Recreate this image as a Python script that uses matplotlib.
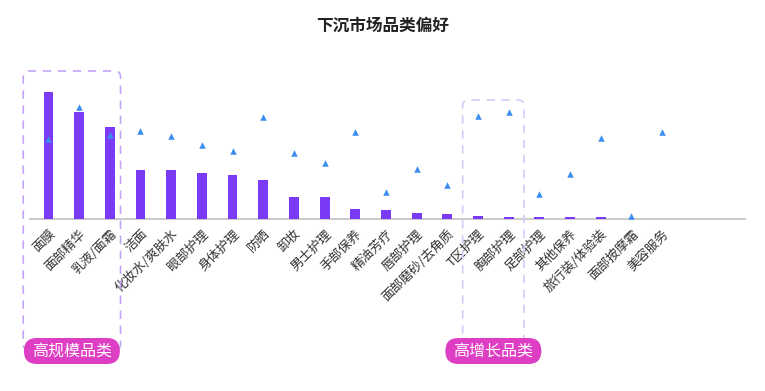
import matplotlib
matplotlib.use('Agg')
import matplotlib.pyplot as plt
from matplotlib.patches import FancyBboxPatch
from matplotlib.transforms import IdentityTransform

plt.rcParams['font.family'] = ['Noto Sans CJK SC', 'DejaVu Sans']

categories = ["面膜", "面部精华", "乳液/面霜", "洁面", "化妆水/爽肤水", "眼部护理", "身体护理",
              "防晒", "卸妆", "男士护理", "手部保养", "精油芳疗", "唇部护理", "面部磨砂/去角质",
              "T区护理", "胸部护理", "足部护理", "其他保养", "旅行装/体验装", "面部按摩霜", "美容服务"]
# market size index (bars) and growth index (triangles)
scale = [100, 84.2, 72.4, 38.7, 38.7, 36.0, 34.7, 30.8, 17.6, 17.6, 8.1,
         6.9, 4.7, 3.7, 2.6, 1.6, 1.3, 1.6, 1.6, 0.0, 0.0]
growth = [62.9, 88.6, 66.5, 69.2, 65.3, 58.6, 53.4, 80.3, 51.9, 44.2, 68.4,
          21.3, 39.2, 27.1, 81.1, 84.5, 19.7, 35.3, 63.7, 2.1, 68.7]
groups = [("高规模品类", 0, 2), ("高增长品类", 14, 15)]

W, H = 765, 391
fig = plt.figure(figsize=(W / 100, H / 100), dpi=100)
ax = fig.add_axes([30 / W, 1 - 219 / H, 715 / W, 159 / H])

x = list(range(len(categories)))
ax.bar(x, scale, width=0.32, color='#7B3AF5', zorder=3)
ax.scatter(x, growth, marker='^', s=22, color='#3A8EF0', zorder=4, linewidths=0)

ax.set_xlim(-0.6, 22.7)
ax.set_ylim(0, 125.5)
ax.set_yticks([])
ax.set_xticks(x)
ax.set_xticklabels(categories, rotation=45, ha='right', va='top',
                   rotation_mode='anchor', fontsize=9.3, color='#333333')
ax.tick_params(axis='x', length=0, pad=6)
for s in ['top', 'left', 'right']:
    ax.spines[s].set_visible(False)
ax.spines['bottom'].set_color('#CCCCCC')
ax.spines['bottom'].set_linewidth(1.5)

fig.text(0.5, 1 - 26 / H, "下沉市场品类偏好", ha='center', va='center',
         fontsize=12, fontweight='bold', color='#222222')

# group highlight boxes and labels (pixel space, origin bottom-left)
box_tops = [H - 71, H - 100]
box_cols = ['#C4A4F7', '#D9C9F7']
for (name, i0, i1), top, bc in zip(groups, box_tops, box_cols):
    x0 = ax.transData.transform((i0 - 0.5, 0))[0]
    x1 = ax.transData.transform((i1 + 0.5, 0))[0]
    if i0 == 0:
        x0 = ax.transData.transform((i0 - 0.82, 0))[0]
        x1 = ax.transData.transform((i1 + 0.35, 0))[0]
    bot = H - 350
    box = FancyBboxPatch((x0, bot), x1 - x0, top - bot,
                         boxstyle="round,pad=0,rounding_size=6",
                         fill=False, edgecolor=bc, linestyle=(0, (5, 4)),
                         linewidth=1.2, transform=IdentityTransform(), zorder=1)
    fig.patches.append(box)
    cx = (x0 + x1) / 2
    pw = 96
    pill = FancyBboxPatch((cx - pw / 2, H - 364), pw, 26,
                          boxstyle="round,pad=0,rounding_size=13",
                          facecolor='#DE3EC3', edgecolor='none',
                          transform=IdentityTransform(), zorder=4)
    fig.patches.append(pill)
    fig.text(cx / W, (H - 351) / H, name, ha='center', va='center',
             fontsize=11.5, color='white', zorder=5)

fig.savefig('out.png', dpi=100)
